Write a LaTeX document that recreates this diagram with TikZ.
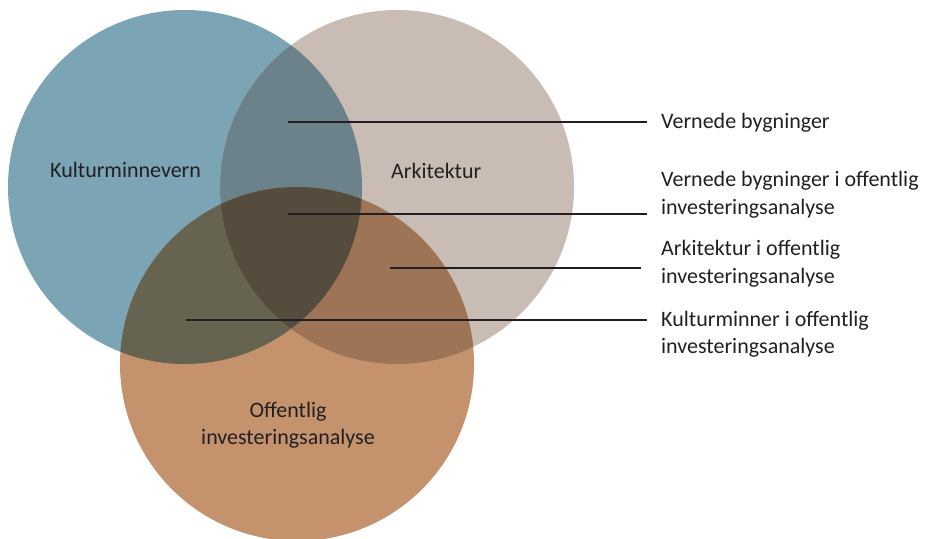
\documentclass[tikz,border=0pt]{standalone}
\usepackage{fontspec}
\setmainfont{Carlito}
\begin{document}
\definecolor{kmblue}{HTML}{7BA4B5}
\definecolor{arkbeige}{HTML}{C9BCB4}
\definecolor{oiaorange}{HTML}{C4936E}
\definecolor{blueBeige}{HTML}{6B828A}
\definecolor{blueOrange}{HTML}{666350}
\definecolor{beigeOrange}{HTML}{9E7456}
\definecolor{allThree}{HTML}{554C3E}
\definecolor{ink}{HTML}{231F20}
\begin{tikzpicture}[x=1pt,y=-1pt,
  label/.style={font=\fontsize{22}{27.5}\selectfont, text=ink, align=left, inner sep=0pt},
  setlabel/.style={font=\fontsize{22}{26.5}\selectfont, text=ink, align=center, inner sep=0pt},
  leader/.style={draw=ink, line width=1.8pt}]
  \useasboundingbox (0,0) rectangle (928,538);
  \clip (0,0) rectangle (928,538);
  \def\R{177}
  % the three sets
  \coordinate (cK) at (185,187);
  \coordinate (cA) at (397,187);
  \coordinate (cO) at (297,364);
  \fill[kmblue] (cK) circle (\R);
  \fill[arkbeige] (cA) circle (\R);
  \fill[oiaorange] (cO) circle (\R);
  % pairwise overlaps
  \begin{scope}
    \clip (cK) circle (\R);
    \fill[blueBeige] (cA) circle (\R);
    \fill[blueOrange] (cO) circle (\R);
  \end{scope}
  \begin{scope}
    \clip (cA) circle (\R);
    \fill[beigeOrange] (cO) circle (\R);
  \end{scope}
  % triple overlap
  \begin{scope}
    \clip (cK) circle (\R);
    \clip (cA) circle (\R);
    \fill[allThree] (cO) circle (\R);
  \end{scope}
  % set names
  \node[setlabel, anchor=west] (kulturminnevern) at (50,170) {Kulturminnevern};
  \node[setlabel, anchor=west] (arkitektur) at (391,171) {Arkitektur};
  \node[setlabel] (offentlig) at (288,425) {Offentlig\\investeringsanalyse};
  % leader lines
  \coordinate (s1) at (288,122);
  \coordinate (e1) at (647,122);
  \coordinate (s2) at (288,214);
  \coordinate (e2) at (647,214);
  \coordinate (s3) at (390,268);
  \coordinate (e3) at (641,268);
  \coordinate (s4) at (186,320);
  \coordinate (e4) at (647,320);
  \draw[leader] (s1) -- (e1);
  \draw[leader] (s2) -- (e2);
  \draw[leader] (s3) -- (e3);
  \draw[leader] (s4) -- (e4);
  % region captions
  \node[label, anchor=west] (vb) at (661,123) {Vernede bygninger};
  \node[label, anchor=west] (vbo) at (661,194.5) {Vernede bygninger i offentlig\\investeringsanalyse};
  \node[label, anchor=west] (ao) at (661,263.5) {Arkitektur i offentlig\\investeringsanalyse};
  \node[label, anchor=west] (ko) at (661,334) {Kulturminner i offentlig\\investeringsanalyse};
\end{tikzpicture}
\end{document}
